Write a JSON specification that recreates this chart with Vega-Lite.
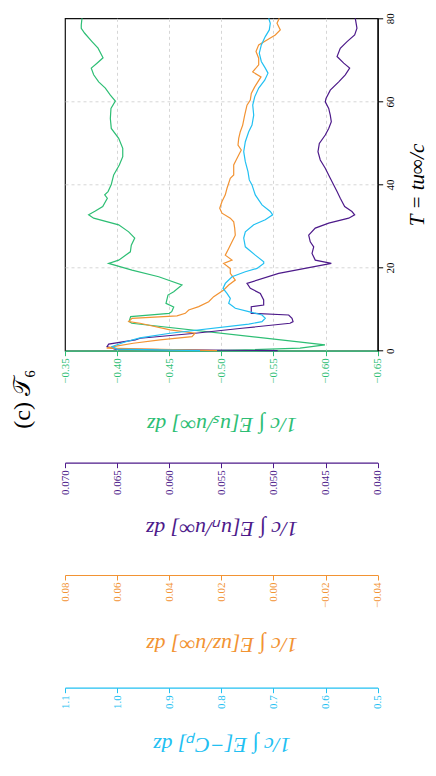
{
  "$schema": "https://vega.github.io/schema/vega-lite/v6.json",
  "width": 312.7,
  "height": 332.4,
  "autosize": {"type": "none"},
  "padding": {"left": 65, "top": 18.3, "right": 58.3, "bottom": 425.3},
  "background": "white",
  "config": {
    "font": "Liberation Serif",
    "view": {"stroke": "#111", "strokeWidth": 1.2},
    "axis": {"labelFont": "Liberation Serif", "titleFont": "Liberation Serif", "labelFontSize": 11, "tickSize": 5, "domainWidth": 1.2, "tickWidth": 1, "labelPadding": 2}
  },
  "title": {"text": "(c) 𝒯₆", "orient": "left", "anchor": "start", "frame": "group", "fontSize": 24, "font": "Liberation Serif", "fontWeight": "normal", "color": "#000", "offset": 24, "dx": -78},
  "datasets": {
    "green": [
      {"T": 80.0, "v": -0.3663}, {"T": 78.4, "v": -0.3656}, {"T": 77.6, "v": -0.3656}, {"T": 76.4, "v": -0.3689},
      {"T": 74.4, "v": -0.3759}, {"T": 72.8, "v": -0.3817}, {"T": 70.5, "v": -0.3865}, {"T": 69.2, "v": -0.3807},
      {"T": 68.0, "v": -0.3752}, {"T": 66.4, "v": -0.3775}, {"T": 64.7, "v": -0.3823}, {"T": 63.2, "v": -0.3887},
      {"T": 61.5, "v": -0.3935}, {"T": 60.1, "v": -0.3983}, {"T": 58.3, "v": -0.3941}, {"T": 55.9, "v": -0.3935},
      {"T": 53.5, "v": -0.3944}, {"T": 51.1, "v": -0.4015}, {"T": 48.7, "v": -0.4054}, {"T": 46.7, "v": -0.4054},
      {"T": 44.7, "v": -0.4021}, {"T": 42.3, "v": -0.3967}, {"T": 40.0, "v": -0.3944}, {"T": 38.3, "v": -0.3913},
      {"T": 37.5, "v": -0.3881}, {"T": 36.7, "v": -0.3906}, {"T": 34.7, "v": -0.3862}, {"T": 33.6, "v": -0.3791},
      {"T": 32.7, "v": -0.3727}, {"T": 31.9, "v": -0.3775}, {"T": 30.3, "v": -0.4015}, {"T": 28.6, "v": -0.4111},
      {"T": 27.1, "v": -0.4169}, {"T": 25.4, "v": -0.4136}, {"T": 23.8, "v": -0.4127}, {"T": 21.8, "v": -0.4015},
      {"T": 21.0, "v": -0.3919}, {"T": 19.4, "v": -0.4143}, {"T": 17.8, "v": -0.4399}, {"T": 15.8, "v": -0.4622},
      {"T": 14.2, "v": -0.4543}, {"T": 13.4, "v": -0.4488}, {"T": 11.4, "v": -0.4469}, {"T": 10.5, "v": -0.4543},
      {"T": 9.4, "v": -0.4524}, {"T": 9.0, "v": -0.4500}, {"T": 8.2, "v": -0.4130}, {"T": 7.0, "v": -0.4115},
      {"T": 6.6, "v": -0.4140}, {"T": 2.2, "v": -0.5720}, {"T": 1.4, "v": -0.5994}, {"T": 0.6, "v": -0.5755},
      {"T": 0.0, "v": -0.4939}
    ],
    "purple": [
      {"T": 80.0, "v": 0.04215}, {"T": 77.6, "v": 0.04199}, {"T": 76.0, "v": 0.04221}, {"T": 74.4, "v": 0.04294},
      {"T": 72.8, "v": 0.04359}, {"T": 70.8, "v": 0.0439}, {"T": 69.2, "v": 0.04326}, {"T": 68.0, "v": 0.04269},
      {"T": 66.4, "v": 0.04311}, {"T": 64.7, "v": 0.04374}, {"T": 62.7, "v": 0.04455}, {"T": 60.7, "v": 0.04496},
      {"T": 59.9, "v": 0.04503}, {"T": 58.3, "v": 0.0447}, {"T": 56.7, "v": 0.04455}, {"T": 55.1, "v": 0.04445},
      {"T": 53.5, "v": 0.0447}, {"T": 51.9, "v": 0.04503}, {"T": 49.9, "v": 0.0456}, {"T": 47.9, "v": 0.04573},
      {"T": 45.9, "v": 0.04551}, {"T": 43.9, "v": 0.04503}, {"T": 41.5, "v": 0.04455}, {"T": 39.9, "v": 0.04422},
      {"T": 38.3, "v": 0.0439}, {"T": 36.7, "v": 0.04359}, {"T": 34.7, "v": 0.04317}, {"T": 33.5, "v": 0.04247},
      {"T": 32.7, "v": 0.04221}, {"T": 31.9, "v": 0.04278}, {"T": 30.7, "v": 0.0447}, {"T": 29.5, "v": 0.04599},
      {"T": 27.8, "v": 0.04662}, {"T": 26.2, "v": 0.04647}, {"T": 25.0, "v": 0.04614}, {"T": 23.4, "v": 0.0463},
      {"T": 21.8, "v": 0.04599}, {"T": 21.0, "v": 0.04445}, {"T": 18.6, "v": 0.0495}, {"T": 16.2, "v": 0.05254},
      {"T": 15.0, "v": 0.05222}, {"T": 13.8, "v": 0.05126}, {"T": 12.2, "v": 0.05094}, {"T": 11.0, "v": 0.05094},
      {"T": 10.6, "v": 0.05213}, {"T": 9.0, "v": 0.05213}, {"T": 8.6, "v": 0.04854}, {"T": 7.8, "v": 0.04822},
      {"T": 7.0, "v": 0.04812}, {"T": 6.6, "v": 0.04841}, {"T": 5.4, "v": 0.05302}, {"T": 4.2, "v": 0.0575},
      {"T": 3.0, "v": 0.06278}, {"T": 2.6, "v": 0.06326}, {"T": 1.6, "v": 0.06581}, {"T": 1.0, "v": 0.06597},
      {"T": 0.4, "v": 0.0652}, {"T": 0.0, "v": 0.0496}
    ],
    "orange": [
      {"T": 80.0, "v": -0.00224}, {"T": 78.8, "v": -0.00136}, {"T": 77.2, "v": -0.00262}, {"T": 76.0, "v": -0.0007},
      {"T": 74.8, "v": 0.00248}, {"T": 73.6, "v": 0.00567}, {"T": 72.0, "v": 0.0067}, {"T": 70.4, "v": 0.00567},
      {"T": 68.8, "v": 0.00567}, {"T": 67.1, "v": 0.00797}, {"T": 65.9, "v": 0.00478}, {"T": 63.5, "v": 0.0072},
      {"T": 61.9, "v": 0.00851}, {"T": 60.3, "v": 0.00889}, {"T": 59.1, "v": 0.01016}, {"T": 56.7, "v": 0.01104},
      {"T": 54.3, "v": 0.01181}, {"T": 52.7, "v": 0.01273}, {"T": 51.1, "v": 0.01334}, {"T": 49.5, "v": 0.01361},
      {"T": 48.3, "v": 0.01235}, {"T": 47.1, "v": 0.01334}, {"T": 45.5, "v": 0.01465}, {"T": 44.7, "v": 0.01526},
      {"T": 42.3, "v": 0.01526}, {"T": 41.5, "v": 0.01657}, {"T": 39.1, "v": 0.01783}, {"T": 37.5, "v": 0.01849},
      {"T": 35.9, "v": 0.01975}, {"T": 34.3, "v": 0.02063}, {"T": 33.1, "v": 0.01975}, {"T": 31.9, "v": 0.01657},
      {"T": 31.0, "v": 0.01526}, {"T": 29.5, "v": 0.01488}, {"T": 27.8, "v": 0.01465}, {"T": 26.2, "v": 0.01591},
      {"T": 24.6, "v": 0.01718}, {"T": 23.0, "v": 0.01849}, {"T": 21.8, "v": 0.01591}, {"T": 21.0, "v": 0.0191},
      {"T": 19.8, "v": 0.01657}, {"T": 18.6, "v": 0.01657}, {"T": 17.0, "v": 0.01465}, {"T": 15.8, "v": 0.01718},
      {"T": 14.6, "v": 0.0191}, {"T": 13.0, "v": 0.02294}, {"T": 11.8, "v": 0.02486}, {"T": 10.6, "v": 0.02869},
      {"T": 9.8, "v": 0.03253}, {"T": 9.0, "v": 0.03383}, {"T": 8.4, "v": 0.03702}, {"T": 7.8, "v": 0.05429},
      {"T": 7.0, "v": 0.05556}, {"T": 6.6, "v": 0.05122}, {"T": 5.0, "v": 0.0397}, {"T": 4.2, "v": 0.03011},
      {"T": 3.4, "v": 0.03126}, {"T": 2.6, "v": 0.04354}, {"T": 1.8, "v": 0.05379}, {"T": 1.0, "v": 0.06146},
      {"T": 0.6, "v": 0.064}, {"T": 0.0, "v": 0.02167}
    ],
    "cyan": [
      {"T": 80.0, "v": 0.7091}, {"T": 78.8, "v": 0.7061}, {"T": 77.2, "v": 0.708}, {"T": 75.6, "v": 0.7157},
      {"T": 73.6, "v": 0.7233}, {"T": 71.6, "v": 0.7272}, {"T": 69.6, "v": 0.7233}, {"T": 68.0, "v": 0.7157},
      {"T": 66.8, "v": 0.7105}, {"T": 65.1, "v": 0.7168}, {"T": 63.2, "v": 0.7283}, {"T": 61.1, "v": 0.736},
      {"T": 59.1, "v": 0.7398}, {"T": 56.7, "v": 0.7379}, {"T": 54.3, "v": 0.7412}, {"T": 52.7, "v": 0.7475},
      {"T": 50.3, "v": 0.754}, {"T": 47.9, "v": 0.7571}, {"T": 45.5, "v": 0.754}, {"T": 43.1, "v": 0.7489},
      {"T": 41.1, "v": 0.7464}, {"T": 39.9, "v": 0.7412}, {"T": 37.5, "v": 0.7349}, {"T": 35.1, "v": 0.722},
      {"T": 33.5, "v": 0.7061}, {"T": 32.7, "v": 0.7015}, {"T": 31.5, "v": 0.7157}, {"T": 30.3, "v": 0.7379},
      {"T": 28.6, "v": 0.754}, {"T": 27.1, "v": 0.7571}, {"T": 25.0, "v": 0.754}, {"T": 23.0, "v": 0.7349},
      {"T": 21.4, "v": 0.7187}, {"T": 21.0, "v": 0.7187}, {"T": 19.8, "v": 0.7316}, {"T": 19.0, "v": 0.754},
      {"T": 17.8, "v": 0.7796}, {"T": 16.2, "v": 0.7924}, {"T": 15.0, "v": 0.7968}, {"T": 13.8, "v": 0.7892},
      {"T": 12.6, "v": 0.7828}, {"T": 11.4, "v": 0.7859}, {"T": 10.2, "v": 0.7732}, {"T": 9.4, "v": 0.7475},
      {"T": 8.6, "v": 0.722}, {"T": 7.8, "v": 0.7157}, {"T": 7.0, "v": 0.722}, {"T": 6.4, "v": 0.7475},
      {"T": 4.2, "v": 0.8985}, {"T": 3.1, "v": 0.9561}, {"T": 2.1, "v": 0.9849}, {"T": 1.0, "v": 1.0098},
      {"T": 0.4, "v": 1.0}, {"T": 0.0, "v": 0.841}
    ]
  },
  "encoding": {
    "y": {
      "field": "T", "type": "quantitative",
      "scale": {"domain": [0, 80], "nice": false, "zero": false},
      "axis": {
        "orient": "right", "values": [0, 20, 40, 60, 80], "labelAngle": 270, "labelAlign": "center", "labelBaseline": "top",
        "labelColor": "#000", "domainColor": "#000", "tickColor": "#000",
        "grid": true, "gridDash": [3, 3], "gridColor": "#d6d6d6",
        "gridOpacity": {"condition": {"test": "datum.value === 0 || datum.value === 80", "value": 0}, "value": 1},
        "title": "T = tu∞/c", "titleAngle": 270, "titleX": 40, "titleY": 166.2, "titleAlign": "center", "titleBaseline": "middle",
        "titleFontSize": 21, "titleFontStyle": "italic", "titleFontWeight": "normal", "titleColor": "#000"
      }
    },
    "order": {"field": "T", "type": "quantitative"}
  },
  "layer": [
    {
      "data": {"name": "green"},
      "mark": {"type": "line", "color": "#2dbe74", "strokeWidth": 1.2},
      "encoding": {
        "x": {
          "field": "v", "type": "quantitative",
          "scale": {"domain": [-0.65, -0.35], "reverse": true, "nice": false, "zero": false},
          "axis": {
            "orient": "bottom", "offset": 0, "values": [-0.35, -0.4, -0.45, -0.5, -0.55, -0.6, -0.65], "format": ".2f",
            "labelAngle": 270, "labelAlign": "right", "labelBaseline": "middle",
            "grid": true, "gridDash": [3, 3], "gridColor": "#d6d6d6",
            "gridOpacity": {"condition": {"test": "datum.value === -0.35 || datum.value === -0.65", "value": 0}, "value": 1},
            "domainColor": "#2dbe74", "tickColor": "#2dbe74", "labelColor": "#2dbe74", "titleColor": "#2dbe74",
            "title": "1/c ∫ E[uₛ/u∞] dz", "titleAngle": 180, "titleX": 156.35, "titleY": 74, "titleAlign": "center", "titleBaseline": "middle",
            "titleFontSize": 22, "titleFontStyle": "italic", "titleFontWeight": "normal"
          }
        }
      }
    },
    {
      "data": {"name": "purple"},
      "mark": {"type": "line", "color": "#4d1a8a", "strokeWidth": 1.2},
      "encoding": {
        "x": {
          "field": "v", "type": "quantitative",
          "scale": {"domain": [0.04, 0.07], "reverse": true, "nice": false, "zero": false},
          "axis": {
            "orient": "bottom", "offset": 112, "values": [0.07, 0.065, 0.06, 0.055, 0.05, 0.045, 0.04], "format": ".3f",
            "labelAngle": 270, "labelAlign": "right", "labelBaseline": "middle", "grid": false,
            "domainColor": "#4d1a8a", "tickColor": "#4d1a8a", "labelColor": "#4d1a8a", "titleColor": "#4d1a8a",
            "title": "1/c ∫ E[uₙ/u∞] dz", "titleAngle": 180, "titleX": 156.35, "titleY": 66, "titleAlign": "center", "titleBaseline": "middle",
            "titleFontSize": 22, "titleFontStyle": "italic", "titleFontWeight": "normal"
          }
        }
      }
    },
    {
      "data": {"name": "orange"},
      "mark": {"type": "line", "color": "#f29333", "strokeWidth": 1.2},
      "encoding": {
        "x": {
          "field": "v", "type": "quantitative",
          "scale": {"domain": [-0.04, 0.08], "reverse": true, "nice": false, "zero": false},
          "axis": {
            "orient": "bottom", "offset": 224.3, "values": [0.08, 0.06, 0.04, 0.02, 0, -0.02, -0.04], "format": ".2f",
            "labelAngle": 270, "labelAlign": "right", "labelBaseline": "middle", "grid": false,
            "domainColor": "#f29333", "tickColor": "#f29333", "labelColor": "#f29333", "titleColor": "#f29333",
            "title": "1/c ∫ E[uz/u∞] dz", "titleAngle": 180, "titleX": 156.35, "titleY": 69, "titleAlign": "center", "titleBaseline": "middle",
            "titleFontSize": 22, "titleFontStyle": "italic", "titleFontWeight": "normal"
          }
        }
      }
    },
    {
      "data": {"name": "cyan"},
      "mark": {"type": "line", "color": "#22c0f2", "strokeWidth": 1.2},
      "encoding": {
        "x": {
          "field": "v", "type": "quantitative",
          "scale": {"domain": [0.5, 1.1], "reverse": true, "nice": false, "zero": false},
          "axis": {
            "orient": "bottom", "offset": 337, "values": [1.1, 1.0, 0.9, 0.8, 0.7, 0.6, 0.5], "format": ".1f",
            "labelAngle": 270, "labelAlign": "right", "labelBaseline": "middle", "grid": false,
            "domainColor": "#22c0f2", "tickColor": "#22c0f2", "labelColor": "#22c0f2", "titleColor": "#22c0f2",
            "title": "1/c ∫ E[−Cₚ] dz", "titleAngle": 180, "titleX": 156.35, "titleY": 57, "titleAlign": "center", "titleBaseline": "middle",
            "titleFontSize": 22, "titleFontStyle": "italic", "titleFontWeight": "normal"
          }
        }
      }
    }
  ],
  "resolve": {"scale": {"x": "independent"}, "axis": {"x": "independent"}}
}
